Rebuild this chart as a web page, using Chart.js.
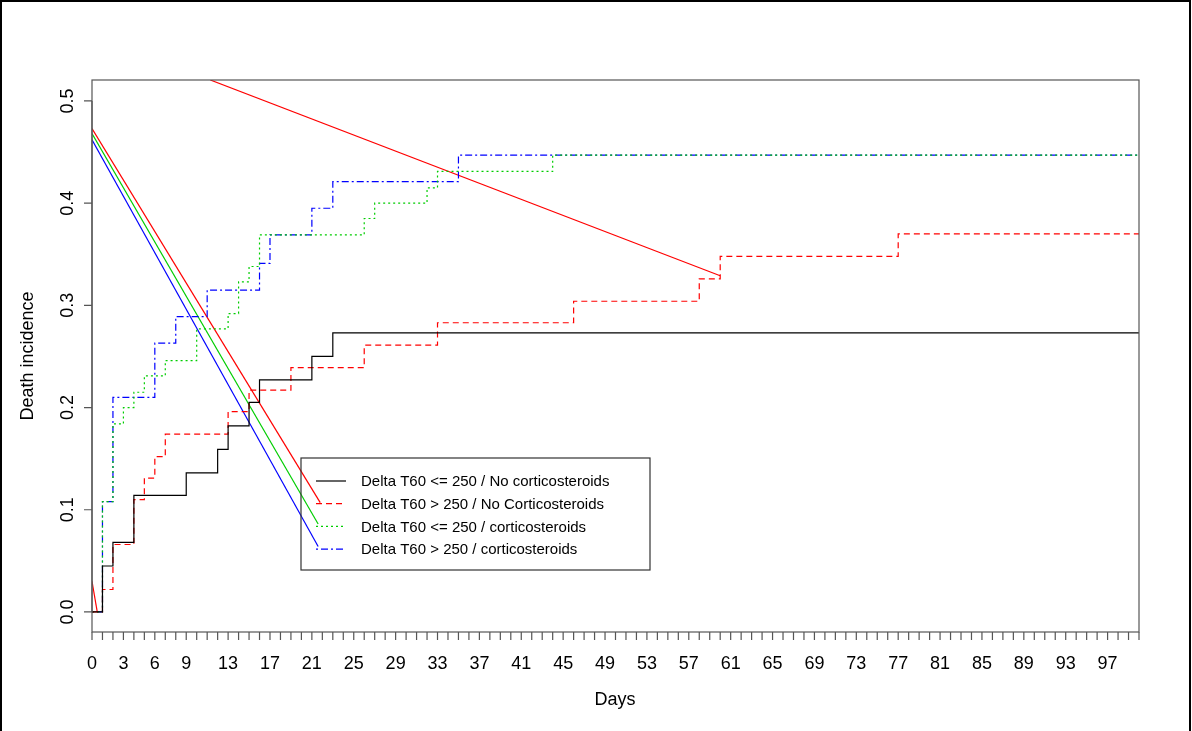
<!DOCTYPE html>
<html><head><meta charset="utf-8">
<script src="https://cdn.jsdelivr.net/npm/chart.js@4"></script>
<style>html,body{margin:0;padding:0;background:#fff}#wrap{width:1192px;height:731px;position:relative}</style>
</head><body><div id="wrap"><canvas id="c" width="1192" height="731" style="width:1192px;height:731px"></canvas></div>
<script>
// step points: [day, incidence after the jump]
const blackSteps = [[0,0],[1,0.045],[2,0.068],[4,0.114],[9,0.136],[12,0.159],[13,0.182],[15,0.205],[16,0.227],[21,0.25],[23,0.273],[100,0.273]];
const redSteps = [[0,0],[1,0.022],[2,0.066],[4,0.11],[5,0.131],[6,0.152],[7,0.174],[13,0.196],[15,0.217],[19,0.239],[26,0.261],[33,0.283],[46,0.304],[58,0.326],[60,0.348],[77,0.37],[100,0.37]];
const greenSteps = [[0,0],[1,0.108],[2,0.184],[3,0.2],[4,0.215],[5,0.231],[7,0.246],[10,0.277],[13,0.292],[14,0.323],[15,0.338],[16,0.369],[26,0.385],[27,0.4],[32,0.415],[33,0.431],[44,0.447],[100,0.447]];
const blueSteps = [[0,0],[1,0.108],[2,0.21],[6,0.263],[8,0.289],[11,0.315],[16,0.341],[17,0.369],[21,0.395],[23,0.421],[35,0.447],[100,0.447]];
// straight segments drawn toward the legend
const redSeg = [[0,0.473],[21.8,0.107]];
const greenSeg = [[0,0.468],[21.6,0.086]];
const blueSeg = [[0,0.462],[21.6,0.064]];
const redLong = [[11.3,0.5205],[60,0.329]];
const redTiny = [[0,0.03],[0.5,0]];
const xTickLabels = [0,3,6,9,13,17,21,25,29,33,37,41,45,49,53,57,61,65,69,73,77,81,85,89,93,97];
const yTicks = [0,0.1,0.2,0.3,0.4,0.5];
const legendLabels = ['Delta T60 <= 250 / No corticosteroids','Delta T60 > 250 / No Corticosteroids','Delta T60 <= 250 / corticosteroids','Delta T60 > 250 / corticosteroids'];

const RED = '#ff0000', GREEN = '#00cd00', BLUE = '#0000ff', BLACK = '#000000';
const styles = [[BLACK, []], [RED, [6,4]], [GREEN, [2,3]], [BLUE, [2,3,7,3]]];
const pts = a => a.map(p => ({x: p[0], y: p[1]}));
const ds = (data, color, dash, stepped) => ({data: pts(data), borderColor: color, borderDash: dash, borderWidth: 1.2, pointRadius: 0, stepped: stepped, fill: false, tension: 0});

const FONT = '"Liberation Sans", Arial, sans-serif';

const axesPlugin = {
  id: 'rAxes',
  afterDraw(chart) {
    const ctx = chart.ctx, a = chart.chartArea, xs = chart.scales.x, ys = chart.scales.y;
    ctx.save();
    ctx.strokeStyle = '#000'; ctx.lineWidth = 2;
    ctx.beginPath(); ctx.moveTo(1, 731); ctx.lineTo(1, 1); ctx.lineTo(1190, 1); ctx.lineTo(1190, 731); ctx.stroke();
    ctx.strokeStyle = '#555'; ctx.lineWidth = 1.2;
    ctx.strokeRect(a.left, a.top, a.right - a.left, a.bottom - a.top);
    // x ticks
    ctx.beginPath();
    for (let d = 0; d <= 100; d++) { const px = xs.getPixelForValue(d); ctx.moveTo(px, a.bottom); ctx.lineTo(px, a.bottom + 8); }
    const y0 = ys.getPixelForValue(0), y5 = ys.getPixelForValue(0.5);
    ctx.moveTo(a.left, y0); ctx.lineTo(a.left, y5);
    yTicks.forEach(v => { const py = ys.getPixelForValue(v); ctx.moveTo(a.left, py); ctx.lineTo(a.left - 8, py); });
    ctx.stroke();
    ctx.fillStyle = '#000'; ctx.font = '18px ' + FONT; ctx.textAlign = 'center'; ctx.textBaseline = 'middle';
    xTickLabels.forEach(v => ctx.fillText(String(v), xs.getPixelForValue(v), 664));
    yTicks.forEach(v => {
      ctx.save(); ctx.translate(68, ys.getPixelForValue(v)); ctx.rotate(-Math.PI / 2);
      ctx.fillText(v.toFixed(1), 0, 0); ctx.restore();
    });
    ctx.fillText('Days', 615, 700);
    ctx.save(); ctx.translate(28, 356); ctx.rotate(-Math.PI / 2); ctx.fillText('Death incidence', 0, 0); ctx.restore();
    // legend
    ctx.strokeStyle = '#333'; ctx.lineWidth = 1.2;
    ctx.strokeRect(301, 458, 349, 112);
    ctx.font = '15px ' + FONT; ctx.textAlign = 'left'; ctx.fillStyle = '#000';
    legendLabels.forEach((t, i) => {
      const py = 481 + i * 22.7;
      ctx.strokeStyle = styles[i][0]; ctx.setLineDash(styles[i][1]); ctx.lineWidth = 1.2;
      ctx.beginPath(); ctx.moveTo(316, py); ctx.lineTo(346, py); ctx.stroke();
      ctx.setLineDash([]);
      ctx.fillText(t, 361, py + 1);
    });
    ctx.restore();
  }
};

new Chart(document.getElementById('c'), {
  type: 'line',
  data: { datasets: [
    ds(blackSteps, BLACK, [], true),
    ds(redSteps, RED, [6,4], true),
    ds(greenSteps, GREEN, [2,3], true),
    ds(blueSteps, BLUE, [2,3,7,3], true),
    ds(redSeg, RED, [], false),
    ds(greenSeg, GREEN, [], false),
    ds(blueSeg, BLUE, [], false),
    ds(redLong, RED, [], false),
    ds(redTiny, RED, [], false),
  ]},
  options: {
    responsive: false, animation: false, devicePixelRatio: 1,
    layout: { padding: { left: 92, top: 80, right: 53, bottom: 99 } },
    plugins: { legend: { display: false }, tooltip: { enabled: false } },
    scales: {
      x: { type: 'linear', min: 0, max: 100, display: false },
      y: { type: 'linear', min: -0.0196, max: 0.5205, display: false },
    },
  },
  plugins: [axesPlugin],
});
</script>
</body></html>
